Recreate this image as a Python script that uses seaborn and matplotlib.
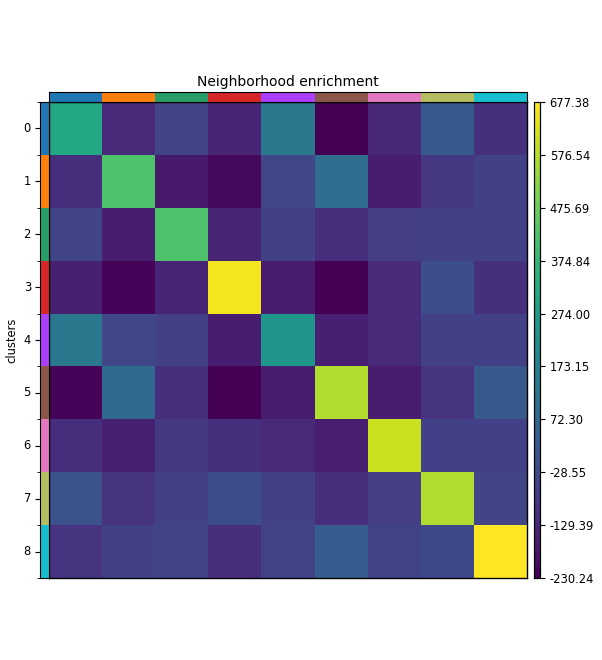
import matplotlib
matplotlib.use("Agg")
import matplotlib.pyplot as plt
import numpy as np
import pandas as pd
import seaborn as sns
from matplotlib.colors import ListedColormap

clusters = ["0", "1", "2", "3", "4", "5", "6", "7", "8"]
cluster_colors = ["#1f77b4", "#ff7f0e", "#279e68", "#d62728", "#aa40fc",
                  "#8c564b", "#e377c2", "#b5bd61", "#17becf"]

# neighborhood enrichment z-scores
row_0 = [315, -121, -48, -140, 133, -228, -130, 24, -103]
row_1 = [-112, 423, -167, -212, -40, 88, -158, -85, -58]
row_2 = [-48, -160, 423, -140, -58, -112, -67, -58, -58]
row_3 = [-150, -221, -140, 662, -160, -230.2395, -121, -21, -103]
row_4 = [133, -40, -58, -160, 242, -150, -121, -58, -58]
row_5 = [-221, 78, -112, -229, -160, 568, -160, -94, 24]
row_6 = [-112, -150, -76, -103, -121, -155, 605, -58, -58]
row_7 = [-3, -94, -58, -21, -58, -112, -67, 568, -48]
row_8 = [-94, -58, -52, -107, -50, 33, -52, -30, 677.3835]

zscore = pd.DataFrame([row_0, row_1, row_2, row_3, row_4, row_5, row_6, row_7, row_8],
                      index=clusters, columns=clusters)
vmin = zscore.values.min()
vmax = zscore.values.max()

W, H = 602, 660
fig = plt.figure(figsize=(W / 100, H / 100), dpi=100)


def px(x0, y0, x1, y1):
    return [x0 / W, 1 - y1 / H, (x1 - x0) / W, (y1 - y0) / H]


ax = fig.add_axes(px(49, 102, 527, 578))
ax_row = fig.add_axes(px(40, 102, 49, 578))
ax_col = fig.add_axes(px(49, 92, 527, 102))
cax = fig.add_axes(px(534, 102, 540, 578))

sns.heatmap(zscore, ax=ax, cmap="viridis", vmin=vmin, vmax=vmax,
            cbar_ax=cax, xticklabels=False, yticklabels=False)
for s in ax.spines.values():
    s.set_visible(True)
    s.set_linewidth(1.0)
ax.set_xlabel("")
ax.set_ylabel("")
ax.tick_params(left=False, bottom=False)

cmap_cl = ListedColormap(cluster_colors)
idx = np.arange(len(clusters))
sns.heatmap(pd.DataFrame(idx[:, None], index=clusters), ax=ax_row, cmap=cmap_cl,
            vmin=-0.5, vmax=len(clusters) - 0.5, cbar=False,
            xticklabels=False, yticklabels=clusters)
ax_row.set_yticks(idx + 0.5)
ax_row.set_yticklabels(clusters)
ax_row.set_yticks(np.arange(len(clusters) + 1), minor=True)
ax_row.tick_params(axis="y", labelrotation=0, labelsize=8.3, length=3.5, width=0.8, pad=3)
ax_row.tick_params(axis="y", which="minor", length=2.5, width=0.6)
ax_row.tick_params(axis="x", bottom=False)
ax_row.set_ylabel("clusters", fontsize=8.3, labelpad=4)
ax_row.set_xlabel("")
for s in ax_row.spines.values():
    s.set_visible(True)

sns.heatmap(pd.DataFrame(idx[None, :], columns=clusters), ax=ax_col, cmap=cmap_cl,
            vmin=-0.5, vmax=len(clusters) - 0.5, cbar=False,
            xticklabels=False, yticklabels=False)
ax_col.tick_params(left=False, bottom=False)
for s in ax_col.spines.values():
    s.set_visible(True)
ax_col.set_title("Neighborhood enrichment", fontsize=10, pad=4)

ticks = np.linspace(vmin, vmax, 10)
cax.set_yticks(ticks)
cax.set_yticklabels([f"{t:.2f}" for t in ticks])
cax.tick_params(labelsize=8.3, length=3.5, width=0.8)
cax.yaxis.set_ticks_position("right")
for s in cax.spines.values():
    s.set_visible(True)
    s.set_linewidth(0.8)

fig.savefig("out.png", dpi=100)
